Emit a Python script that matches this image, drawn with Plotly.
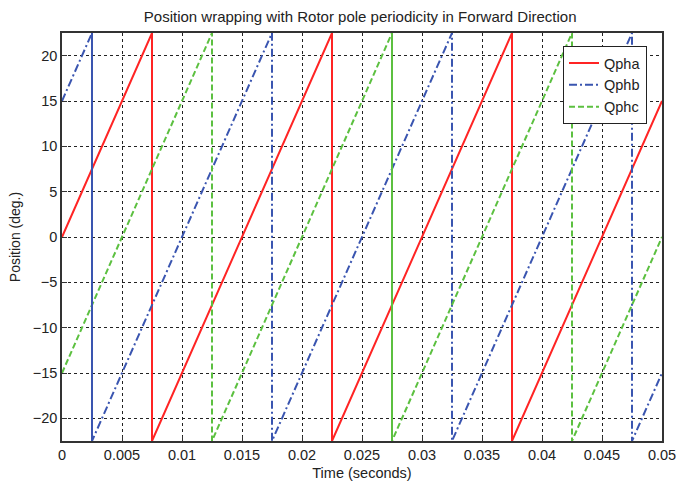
import plotly.graph_objects as go

# Breakpoints of each wrapped position trace (time in s, position in deg)
t_pha = [0, 0.0075, 0.0075, 0.0225, 0.0225, 0.0375, 0.0375, 0.05]
q_pha = [0, 22.5, -22.5, 22.5, -22.5, 22.5, -22.5, 15]

t_phb = [0, 0.0025, 0.0025, 0.0175, 0.0175, 0.0325, 0.0325, 0.0475, 0.0475, 0.05]
q_phb = [15, 22.5, -22.5, 22.5, -22.5, 22.5, -22.5, 22.5, -22.5, -15]

t_phc = [0, 0.0125, 0.0125, 0.0275, 0.0275, 0.0425, 0.0425, 0.05]
q_phc = [-15, 22.5, -22.5, 22.5, -22.5, 22.5, -22.5, 0]

# Wrap drops that render as solid strokes in the reference
solid_drop_t = [0.0025, 0.0275]
solid_drop_color = ["#3a55b0", "#5cc040"]

x_ticks = [0, 0.005, 0.01, 0.015, 0.02, 0.025, 0.03, 0.035, 0.04, 0.045, 0.05]
x_labels = ["0", "0.005", "0.01", "0.015", "0.02", "0.025", "0.03", "0.035", "0.04", "0.045", "0.05"]
y_ticks = [-20, -15, -10, -5, 0, 5, 10, 15, 20]

RED = "#ff2424"
BLUE = "#3a55b0"
GREEN = "#5cc040"

fig = go.Figure()
fig.add_trace(go.Scatter(x=t_pha, y=q_pha, mode="lines", name="Qpha",
                         line=dict(color=RED, width=2, dash="solid")))
fig.add_trace(go.Scatter(x=t_phb, y=q_phb, mode="lines", name="Qphb",
                         line=dict(color=BLUE, width=2, dash="8px,3px,2px,3px")))
fig.add_trace(go.Scatter(x=t_phc, y=q_phc, mode="lines", name="Qphc",
                         line=dict(color=GREEN, width=2, dash="6px,3px")))
for tx, c in zip(solid_drop_t, solid_drop_color):
    fig.add_trace(go.Scatter(x=[tx, tx], y=[-22.5, 22.5], mode="lines", showlegend=False,
                             line=dict(color=c, width=2), hoverinfo="skip"))

font = dict(family="Liberation Sans, Arial, sans-serif", size=14, color="#222222")
fig.update_layout(
    width=677, height=483,
    margin=dict(l=62, r=15, t=33, b=42, autoexpand=False),
    paper_bgcolor="white", plot_bgcolor="white",
    font=font,
    title=dict(text="Position wrapping with Rotor pole periodicity in Forward Direction",
               x=0.532, xanchor="center", y=0.966, yanchor="middle",
               font=dict(size=15, color="#222222")),
    legend=dict(x=0.975, y=0.968, xanchor="right", yanchor="top",
                bgcolor="white", bordercolor="#222222", borderwidth=1,
                font=dict(size=14.5), tracegroupgap=0, entrywidth=100),
    showlegend=True,
)
fig.update_xaxes(range=[0, 0.05], tickvals=x_ticks, ticktext=x_labels, automargin=False,
                 showgrid=True, gridcolor="#222222", gridwidth=1, griddash="3px,3px",
                 showline=True, linecolor="#333333", linewidth=1.5, mirror=True,
                 ticks="inside", ticklen=5, tickcolor="#333333", zeroline=False,
                 tickfont=dict(size=14.5), ticklabeloverflow="allow",
                 title=dict(text="Time (seconds)", standoff=6, font=dict(size=14.5)))
fig.update_yaxes(range=[-22.5, 22.5], tickvals=y_ticks, automargin=False,
                 showgrid=True, gridcolor="#222222", gridwidth=1, griddash="3px,3px",
                 showline=True, linecolor="#333333", linewidth=1.5, mirror=True,
                 ticks="inside", ticklen=5, tickcolor="#333333", zeroline=False,
                 tickfont=dict(size=14.5),
                 title=dict(text="Position (deg.)", standoff=9, font=dict(size=14)))

# remove the default 8px page margin so the figure fills the window exactly
fig.write_html("out.html", config={"displayModeBar": False},
               post_script="document.body.style.margin='0';")
